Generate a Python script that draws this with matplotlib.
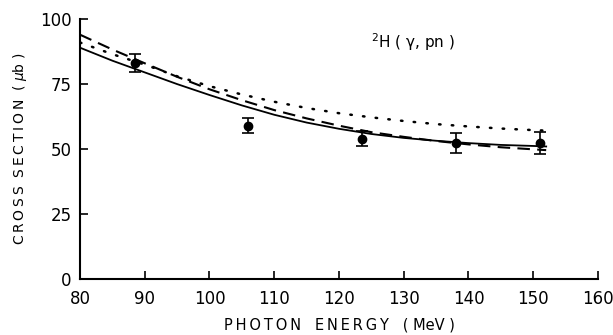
import matplotlib.pyplot as plt

# measured points
energy = [88.5, 106.0, 123.5, 138.0, 151.0]
sigma = [83.0, 59.0, 54.0, 52.3, 52.3]
sigma_err = [3.5, 3.0, 3.0, 4.0, 4.3]

# theory curves
curve_e = [80, 85, 90, 95, 100, 105, 110, 115, 120, 125, 130, 135, 140, 145, 150, 152]
solid = [89.0, 84.0, 79.5, 75.0, 70.8, 66.8, 63.2, 60.2, 57.8, 55.8, 54.3, 53.2, 52.3, 51.6, 51.2, 51.0]
dashed = [94.0, 88.3, 83.0, 77.8, 73.0, 68.8, 65.0, 61.8, 59.0, 56.5, 54.7, 53.1, 51.8, 50.7, 49.9, 49.6]
dotted = [91.0, 86.5, 82.5, 78.0, 74.2, 71.0, 68.2, 65.8, 63.8, 62.2, 60.8, 59.6, 58.7, 57.9, 57.3, 57.1]

xticks = [80, 90, 100, 110, 120, 130, 140, 150, 160]
yticks = [0, 25, 50, 75, 100]


def spaced(s):
    # widen letters a bit, like the old typeset labels
    return '\u2009'.join(s)


fig = plt.figure(figsize=(6.13, 3.35), dpi=100)
ax = fig.add_axes([0.1305, 0.167, 0.845, 0.776])

ax.plot(curve_e, solid, '-', color='black', lw=1.3)
ax.plot(curve_e, dashed, color='black', lw=1.5, dashes=(6, 3.5))
ax.plot(curve_e, dotted, color='black', lw=1.8, dashes=(0.6, 4.5), dash_capstyle='round')
ax.errorbar(energy, sigma, yerr=sigma_err, fmt='o', color='black', ms=6,
            capsize=4, elinewidth=1.2, capthick=1.2)

ax.set_xlim(80, 160)
ax.set_ylim(0, 100)
ax.set_xticks(xticks)
ax.set_yticks(yticks)
ax.tick_params(direction='in', length=6, width=1.2, labelsize=12)
ax.tick_params(axis='x', pad=8)
ax.tick_params(axis='y', pad=6)
ax.spines['top'].set_visible(False)
ax.spines['right'].set_visible(False)
ax.spines['left'].set_linewidth(1.5)
ax.spines['bottom'].set_linewidth(1.5)

ax.set_xlabel(spaced('PHOTON') + '   ' + spaced('ENERGY') + '   ( MeV )',
              fontsize=10.5, labelpad=7)
ax.set_ylabel(spaced('CROSS') + '  ' + spaced('SECTION') + '  ( $\\mu$b )',
              fontsize=10, labelpad=8)

ax.text(125, 89, '$^2$H ( γ, pn )', fontsize=11)

fig.savefig('out.png', dpi=100)
